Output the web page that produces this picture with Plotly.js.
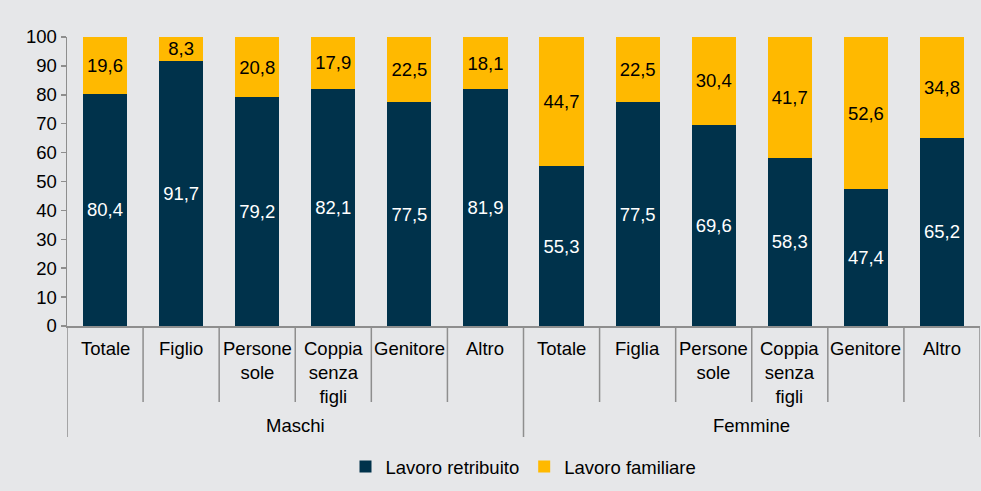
<!DOCTYPE html>
<html><head><meta charset="utf-8">
<script src="https://cdn.plot.ly/plotly-3.0.1.min.js"></script>
<style>html,body{margin:0;padding:0;background:#e6e7e9;}</style>
</head><body><div id="chart" style="width:981px;height:491px;"></div>
<script>
const groups = ["Maschi", "Femmine"];
const categoriesMaschi = ["Totale", "Figlio", "Persone<br>sole", "Coppia<br>senza<br>figli", "Genitore", "Altro"];
const categoriesFemmine = ["Totale", "Figlia", "Persone<br>sole", "Coppia<br>senza<br>figli", "Genitore", "Altro"];
const retribuito = [80.4, 91.7, 79.2, 82.1, 77.5, 81.9, 55.3, 77.5, 69.6, 58.3, 47.4, 65.2];
const familiare = [19.6, 8.3, 20.8, 17.9, 22.5, 18.1, 44.7, 22.5, 30.4, 41.7, 52.6, 34.8];
const seriesNames = ["Lavoro retribuito", "Lavoro familiare"];
const yTicks = [0, 10, 20, 30, 40, 50, 60, 70, 80, 90, 100];

const FONT = "Liberation Sans, Arial, sans-serif";
const FS = 18.5;
const GRAY = "#8e8e8e";
const categories = categoriesMaschi.concat(categoriesFemmine);
const groupSizes = [categoriesMaschi.length, categoriesFemmine.length];
const xs = categories.map((c, i) => i);
const fmt = v => v.toFixed(1).replace(".", ",");

const traces = [
  {type: "bar", name: seriesNames[0], x: xs, y: retribuito,
   marker: {color: "#00324b"}, text: retribuito.map(fmt),
   textposition: "inside", insidetextanchor: "middle", constraintext: "none", textangle: 0,
   textfont: {color: "#ffffff", size: FS, family: FONT}, hoverinfo: "none"},
  {type: "bar", name: seriesNames[1], x: xs, y: familiare,
   marker: {color: "#ffb900"}, text: familiare.map(fmt),
   textposition: "inside", insidetextanchor: "middle", constraintext: "none", textangle: 0,
   textfont: {color: "#000000", size: FS, family: FONT}, hoverinfo: "none"}
];

const plotH = 289;
const innerBottom = -(402 - 326) / plotH;
const outerBottom = -(437 - 326) / plotH;
const shapes = [];
const annotations = [];
let boundaries = [-0.5];
let acc = 0;
groupSizes.forEach(n => { acc += n; boundaries.push(acc - 0.5); });
for (let i = 0; i <= categories.length; i++) {
  const pos = i - 0.5;
  const isOuter = boundaries.includes(pos);
  shapes.push({type: "line", xref: "x", yref: "paper", x0: pos, x1: pos, y0: 0,
    y1: isOuter ? outerBottom : innerBottom, line: {color: GRAY, width: 1.5}});
}
categories.forEach((c, i) => {
  annotations.push({xref: "x", yref: "paper", x: i, y: -(336 - 326) / plotH, yanchor: "top",
    xanchor: "center", text: c, showarrow: false, align: "center",
    font: {family: FONT, size: FS, color: "#000"}});
});
let start = 0;
groups.forEach((g, k) => {
  const mid = start + (groupSizes[k] - 1) / 2;
  annotations.push({xref: "x", yref: "paper", x: mid, y: -(425 - 326) / plotH, yanchor: "middle",
    xanchor: "center", text: g, showarrow: false, font: {family: FONT, size: FS, color: "#000"}});
  start += groupSizes[k];
});

const layout = {
  width: 981, height: 491,
  margin: {l: 67, r: 1, t: 37, b: 165},
  paper_bgcolor: "#e6e7e9", plot_bgcolor: "#e6e7e9",
  barmode: "stack", bargap: 0.42,
  font: {family: FONT, size: FS, color: "#000"},
  xaxis: {range: [-0.5, categories.length - 0.5], showticklabels: false, ticks: "",
    showgrid: false, zeroline: false, showline: true, linecolor: GRAY, linewidth: 1.5, fixedrange: true},
  yaxis: {range: [0, 100], tickvals: yTicks, ticktext: yTicks.map(String), ticks: "outside",
    ticklen: 5, tickcolor: GRAY, tickwidth: 1.5, showgrid: false, zeroline: false,
    showline: true, linecolor: GRAY, linewidth: 1.5, tickfont: {size: FS, family: FONT}, fixedrange: true},
  showlegend: true,
  legend: {orientation: "h", x: 0.5, xanchor: "center", y: -(467 - 326) / plotH, yanchor: "middle",
    font: {size: FS, family: FONT}, bgcolor: "rgba(0,0,0,0)", traceorder: "normal", itemwidth: 30},
  shapes: shapes,
  annotations: annotations
};
Plotly.newPlot("chart", traces, layout, {displayModeBar: false, staticPlot: true});
</script></body></html>
